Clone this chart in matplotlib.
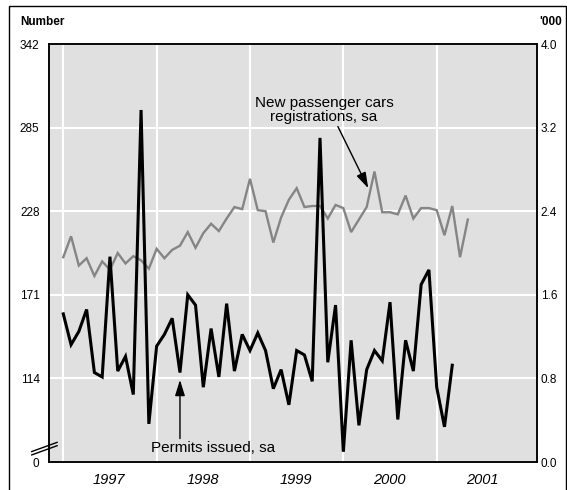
import matplotlib
matplotlib.use("Agg")
import matplotlib.pyplot as plt
from matplotlib.patches import Rectangle
from matplotlib.lines import Line2D

plt.rcParams["font.family"] = ["Liberation Sans", "DejaVu Sans"]

# Monthly data, Jan 1997 onwards (month index 0 = Jan 1997)
permits = [158, 137, 146, 161, 118, 115, 197, 119, 129, 103,
           297, 83, 136, 144, 155, 118, 171, 164, 108, 148,
           115, 165, 119, 144, 133, 145, 133, 107, 120, 96,
           133, 130, 112, 278, 125, 164, 64, 140, 82, 120,
           133, 126, 166, 86, 140, 119, 178, 188, 108, 81,
           123]
cars = [1.96, 2.16, 1.88, 1.95, 1.78, 1.92, 1.84, 2.00, 1.90, 1.97,
        1.93, 1.85, 2.04, 1.95, 2.03, 2.07, 2.20, 2.05, 2.19, 2.28,
        2.21, 2.33, 2.44, 2.42, 2.71, 2.41, 2.40, 2.10, 2.34, 2.51,
        2.62, 2.44, 2.45, 2.45, 2.33, 2.46, 2.43, 2.20, 2.32, 2.44,
        2.78, 2.39, 2.39, 2.37, 2.55, 2.33, 2.43, 2.43, 2.41, 2.17,
        2.45, 1.96, 2.32]
years = ["1997", "1998", "1999", "2000", "2001"]
left_ticks = [57, 114, 171, 228, 285, 342]
left_labels = ["0", "114", "171", "228", "285", "342"]
right_ticks = [0.0, 0.8, 1.6, 2.4, 3.2, 4.0]

BG = "#e0e0e0"
GREY = "#858585"
XLIM = (-1.8, 60.85)

fig = plt.figure(figsize=(5.67, 4.90), dpi=100)
rect = [0.0869, 0.0571, 0.8596, 0.8531]
ax2 = fig.add_axes(rect)          # background, grid, grey series, right axis
ax = fig.add_axes(rect)           # black series, left axis, year labels
ax2.set_zorder(0)
ax.set_zorder(1)
ax.patch.set_visible(False)
ax2.set_facecolor(BG)

# grey series on the right axis ('000)
ax2.plot(range(len(cars)), cars, color=GREY, lw=1.7, solid_joinstyle="miter")
ax2.set_xlim(*XLIM)
ax2.set_ylim(0, 4.0)
ax2.yaxis.tick_right()
ax2.set_yticks(right_ticks)
ax2.set_yticklabels([f"{t:.1f}" for t in right_ticks])
ax2.set_xticks([12 * i for i in range(len(years))])
ax2.set_axisbelow(True)
ax2.grid(True, color="white", lw=1.5)
ax2.tick_params(axis="y", length=0, pad=3, labelsize=8.5)
ax2.tick_params(axis="x", length=0, labelbottom=False)

# black series on the left axis (Number)
ax.plot(range(len(permits)), permits, color="black", lw=2.2, solid_joinstyle="miter")
ax.set_xlim(*XLIM)
ax.set_ylim(57, 342)
ax.set_yticks(left_ticks)
ax.set_yticklabels(left_labels)
ax.tick_params(axis="y", length=0, pad=7, labelsize=8.5)

# year labels in the middle of each year
ax.set_xticks([12 * i + 5.9 for i in range(len(years))])
ax.set_xticklabels(years, fontstyle="italic", fontsize=10.5)
ax.tick_params(axis="x", length=0, pad=8)

for a in (ax, ax2):
    for s in a.spines.values():
        s.set_linewidth(1.1)

# axis break marks on the left spine
for dy in (0.0, -0.008):
    ax.add_line(Line2D([-0.036, 0.016], [0.025 + dy, 0.047 + dy], transform=ax.transAxes,
                       color="black", lw=1.0, clip_on=False))

# annotations
ax.annotate("", xy=(15, 113), xytext=(15, 73),
            arrowprops=dict(arrowstyle="-|>,head_length=0.8,head_width=0.25",
                            color="black", lw=1.0, mutation_scale=12, shrinkA=0, shrinkB=0))
ax.text(19.3, 66.5, "Permits issued, sa", ha="center", va="center", fontsize=11)

ax2.annotate("", xy=(39.2, 2.62), xytext=(35.3, 3.21),
             arrowprops=dict(arrowstyle="-|>,head_length=0.8,head_width=0.25",
                             color="black", lw=1.0, mutation_scale=12, shrinkA=0, shrinkB=0))
ax2.text(33.5, 3.37, "New passenger cars\nregistrations, sa", ha="center", va="center",
         fontsize=11, linespacing=1.05)

# unit headers
fig.text(20 / 567, 1 - 22 / 490, "Number", ha="left", va="center", fontsize=8.5, fontweight="bold")
fig.text(539 / 567, 1 - 22 / 490, "'000", ha="left", va="center", fontsize=8.5, fontweight="bold")

# outer frame
fig.add_artist(Rectangle((9 / 567, -0.05), (565.5 - 9) / 567, 1 - 6 / 490 + 0.05,
                         transform=fig.transFigure, fill=False, edgecolor="black", lw=1.0))

fig.savefig("out.png", dpi=100)
